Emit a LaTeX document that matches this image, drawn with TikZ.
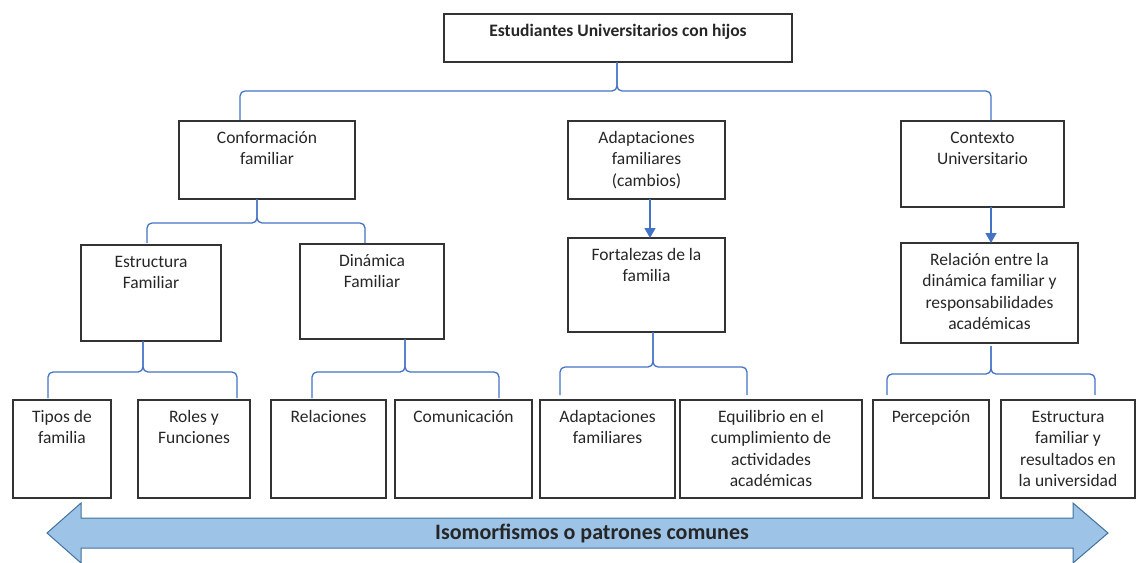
\documentclass[tikz,border=0pt]{standalone}
\usepackage{fontspec}
\setmainfont{Carlito}
\usetikzlibrary{arrows.meta,calc}
\definecolor{lnblue}{HTML}{4472C4}
\definecolor{arrfill}{HTML}{9DC3E6}
\definecolor{arrline}{HTML}{41719C}
\definecolor{boxline}{HTML}{333333}
\definecolor{txtcol}{HTML}{262626}
\tikzset{
  boxshape/.style={draw=boxline, line width=1.1pt, inner sep=0pt, outer sep=0pt},
  boxtext/.style={align=center, inner sep=0pt, text=txtcol, font=\fontsize{17.5}{21.5}\selectfont},
  brace/.style={draw=lnblue, line width=1.3pt, rounded corners=5pt},
  arr/.style={draw=lnblue, line width=1.3pt, -{Triangle[width=11pt,length=10pt]}},
  bigarrow/.style={draw=arrline, line width=1pt, fill=arrfill},
  arrtext/.style={inner sep=0pt, text=txtcol, font=\bfseries\fontsize{22}{26}\selectfont}
}
\newcommand\mybox[6]{%
  \node[boxshape, minimum width={(#4-#2)*1pt}, minimum height={(#5-#3)*1pt}, anchor=north west] (#1) at (#2,#3) {};
  \node[boxtext, anchor=north] (#1-t) at ([yshift=-7pt]#1.north) {\strut #6};}
\begin{document}
\begin{tikzpicture}[x=1pt,y=-1pt]
\useasboundingbox (0,0) rectangle (1137,562);
% boxes
\mybox{top}{444}{14}{792}{62}{\textbf{Estudiantes Universitarios con hijos}}
\mybox{conf}{179}{121}{355}{199}{Conformación\\familiar}
\mybox{adap}{568}{121}{725}{199}{Adaptaciones\\familiares\\(cambios)}
\mybox{ctx}{901}{121}{1064}{207}{Contexto\\Universitario}
\mybox{estr}{81}{245}{221}{341}{Estructura\\Familiar}
\mybox{dina}{300}{244}{444}{339}{Dinámica\\Familiar}
\mybox{fort}{568}{238}{725}{332}{Fortalezas de la\\familia}
\mybox{rel}{901}{243}{1078}{343}{Relación entre la\\dinámica familiar y\\responsabilidades\\académicas}
\mybox{tipos}{13}{400}{111}{498}{Tipos de\\familia}
\mybox{roles}{138}{400}{250}{498}{Roles y\\Funciones}
\mybox{relac}{271}{400}{386}{498}{Relaciones}
\mybox{comu}{395}{400}{532}{498}{Comunicación}
\mybox{adfam}{540}{400}{675}{498}{Adaptaciones\\familiares}
\mybox{equi}{680}{400}{862}{498}{Equilibrio en el\\cumplimiento de\\actividades\\académicas}
\mybox{perc}{873}{400}{989}{498}{Percepción}
\mybox{estrb}{1001}{400}{1135}{498}{Estructura\\familiar y\\resultados en\\la universidad}
% brace coordinates
\coordinate (s0) at (617,62);  \coordinate (m0) at (0,91);
\coordinate (l0) at (240,120); \coordinate (r0) at (991,120);
\coordinate (s1) at (257,199); \coordinate (m1) at (0,223);
\coordinate (l1) at (147,243); \coordinate (r1) at (365,243);
\coordinate (s2) at (143,341); \coordinate (m2) at (0,372);
\coordinate (l2) at (48,398);  \coordinate (r2) at (237,398);
\coordinate (s3) at (405,339); \coordinate (m3) at (0,372);
\coordinate (l3) at (312,398); \coordinate (r3) at (499,398);
\coordinate (s4) at (653,332); \coordinate (m4) at (0,367);
\coordinate (l4) at (560,395); \coordinate (r4) at (747,395);
\coordinate (s5) at (991,346); \coordinate (m5) at (0,374);
\coordinate (l5) at (887,395); \coordinate (r5) at (1095,395);
\foreach \i in {0,...,5}{
  \draw[brace] (l\i) |- (s\i |- m\i) -- (s\i);
  \draw[brace] (s\i) |- (r\i |- m\i) -- (r\i);
}
% arrows
\draw[arr] ([xshift=3.5pt]adap.south) -- ([xshift=3.5pt]adap.south |- fort.north);
\draw[arr] ([xshift=8.5pt]ctx.south) -- ([xshift=8.5pt]ctx.south |- rel.north);
% big double arrow
\draw[bigarrow] (47,533) -- (81,503) -- (81,518) -- (1073,518) -- (1073,503) -- (1108,533)
  -- (1073,563) -- (1073,548) -- (81,548) -- (81,563) -- cycle;
\node[arrtext] (iso) at (592,533) {Isomorfismos o patrones comunes};
\end{tikzpicture}
\end{document}
